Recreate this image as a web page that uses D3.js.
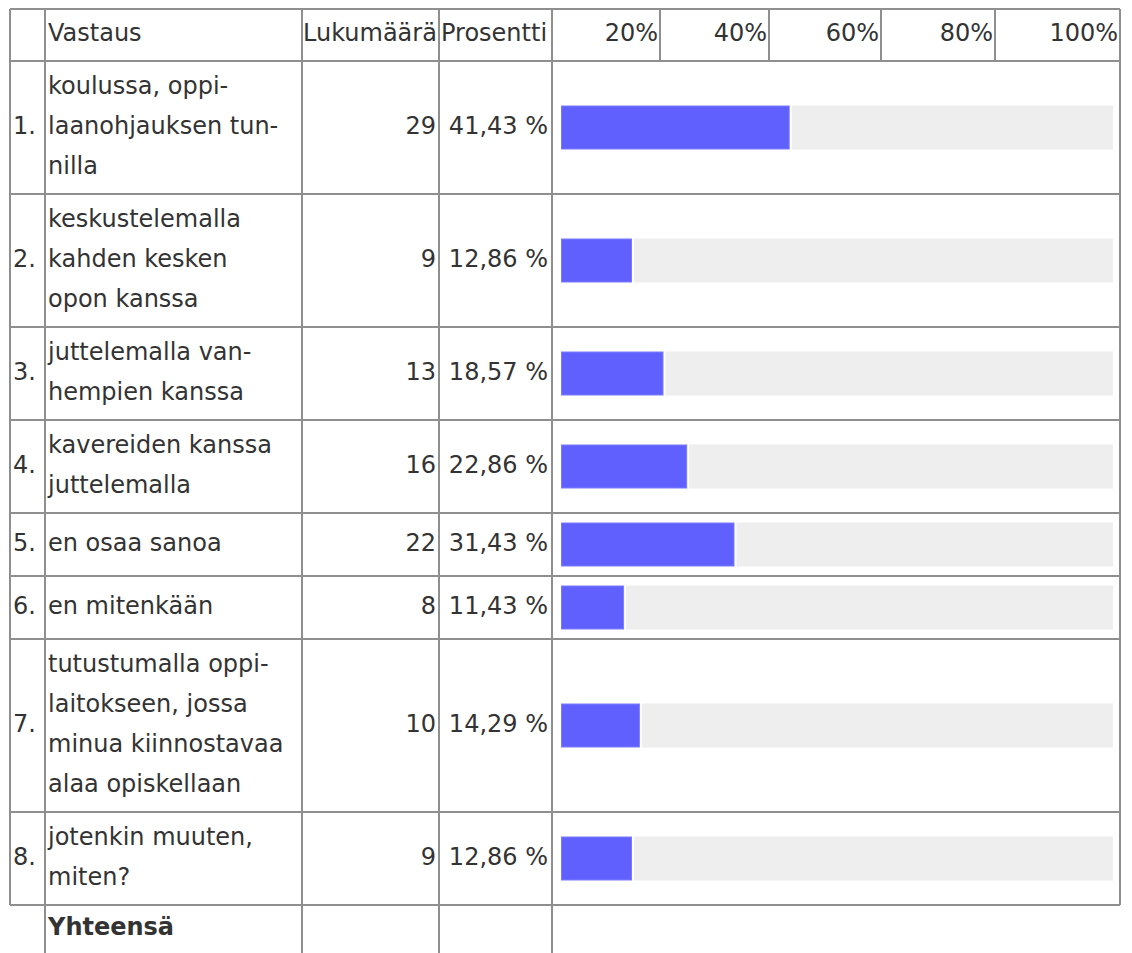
<!DOCTYPE html>
<html>
<head>
<meta charset="utf-8">
<script src="https://cdn.jsdelivr.net/npm/d3@7"></script>
<style>
  body { margin: 0; background: #fff; }
  svg text { font-family: "DejaVu Sans", Verdana, sans-serif; fill: #333; }
</style>
</head>
<body>
<div id="chart"></div>
<script>
const headers = ["Vastaus", "Lukumäärä", "Prosentti"];
const tickLabels = ["20%", "40%", "60%", "80%", "100%"];
const answers = [
    ["koulussa, oppi-", "laanohjauksen tun-", "nilla"],
    ["keskustelemalla", "kahden kesken", "opon kanssa"],
    ["juttelemalla van-", "hempien kanssa"],
    ["kavereiden kanssa", "juttelemalla"],
    ["en osaa sanoa"],
    ["en mitenkään"],
    ["tutustumalla oppi-", "laitokseen, jossa", "minua kiinnostavaa", "alaa opiskellaan"],
    ["jotenkin muuten,", "miten?"]
];
const counts = [29, 9, 13, 16, 22, 8, 10, 9];
const percents = [41.43, 12.86, 18.57, 22.86, 31.43, 11.43, 14.29, 12.86];
const totalLabel = "Yhteensä";

// table layout (px)
const W = 1132, H = 953;
const tableTop = 9, tableLeft = 10, tableRight = 1120;
const cols = [10, 45, 302, 439, 552];              // column borders
const tickCells = [552, 660, 769, 881, 995, 1120]; // header cells for ticks
const lineH = 40, padV = 13, minRowH = 63, headH = 52;
const barH = 44, fontSize = 24, dy = "0.27em";
const lineColor = "#8f8f8f";

const rowH = answers.map(function (a) { return Math.max(a.length * lineH + padV, minRowH); });
const rowTop = [tableTop + headH];
rowH.forEach(function (h, i) { rowTop.push(rowTop[i] + h); });
const tableBottom = rowTop[rowTop.length - 1];

const x = d3.scaleLinear().domain([0, 100]).range([561, 1113]);

const svg = d3.select("#chart").append("svg")
    .attr("width", W)
    .attr("height", H)
    .style("font-size", fontSize + "px");

// bars
const bars = svg.selectAll(".bar")
    .data(percents)
    .enter().append("g")
    .attr("class", "bar")
    .attr("transform", function (d, i) {
        return `translate(0, ${rowTop[i] + rowH[i] / 2 - barH / 2})`;
    });

bars.append("rect")
    .attr("x", function (d) { return x(d) + 2; })
    .attr("width", function (d) { return x(100) - x(d) - 2; })
    .attr("height", barH)
    .style("fill", "#eeeeee");

bars.append("rect")
    .attr("x", x(0) + 0.5)
    .attr("y", 0.5)
    .attr("width", function (d) { return x(d) - x(0) - 1; })
    .attr("height", barH - 1)
    .style("fill", "#6060ff")
    .style("stroke", "#7a7aff")
    .style("stroke-width", 1);

// grid lines
const g = svg.append("g")
    .style("stroke", lineColor)
    .style("stroke-width", 2);

g.append("line").attr("x1", tableLeft).attr("x2", tableRight).attr("y1", tableTop).attr("y2", tableTop);
rowTop.forEach(function (y) {
    g.append("line").attr("x1", tableLeft).attr("x2", tableRight).attr("y1", y).attr("y2", y);
});
g.append("line").attr("x1", tableLeft).attr("x2", tableLeft).attr("y1", tableTop).attr("y2", tableBottom);
g.append("line").attr("x1", tableRight).attr("x2", tableRight).attr("y1", tableTop).attr("y2", tableBottom);
cols.slice(1).forEach(function (c) {
    g.append("line").attr("x1", c).attr("x2", c).attr("y1", tableTop).attr("y2", H);
});
tickCells.slice(1, -1).forEach(function (c) {
    g.append("line").attr("x1", c).attr("x2", c).attr("y1", tableTop).attr("y2", tableTop + headH);
});

// header
const headY = tableTop + headH / 2;
svg.append("text").attr("x", cols[1] + 3).attr("y", headY).attr("dy", dy).text(headers[0]);
svg.append("text").attr("x", cols[2] + 1).attr("y", headY).attr("dy", dy).text(headers[1]);
svg.append("text").attr("x", cols[3] + 2).attr("y", headY).attr("dy", dy).text(headers[2]);

svg.selectAll(".tick")
    .data(tickLabels)
    .enter().append("text")
    .attr("class", "tick")
    .attr("x", function (d, i) { return tickCells[i + 1] - 2; })
    .attr("y", headY)
    .attr("dy", dy)
    .attr("text-anchor", "end")
    .text(function (d) { return d; });

// rows
const rows = svg.selectAll(".row")
    .data(answers)
    .enter().append("g")
    .attr("class", "row")
    .attr("transform", function (d, i) { return `translate(0, ${rowTop[i] + rowH[i] / 2})`; });

rows.append("text")
    .attr("x", tableLeft + 3)
    .attr("dy", dy)
    .text(function (d, i) { return (i + 1) + "."; });

rows.each(function (lines) {
    const n = lines.length;
    d3.select(this).selectAll(".ans")
        .data(lines)
        .enter().append("text")
        .attr("class", "ans")
        .attr("x", cols[1] + 3)
        .attr("y", function (d, j) { return (j - (n - 1) / 2) * lineH; })
        .attr("dy", dy)
        .text(function (d) { return d; });
});

rows.append("text")
    .attr("x", cols[3] - 3)
    .attr("dy", dy)
    .attr("text-anchor", "end")
    .text(function (d, i) { return counts[i]; });

rows.append("text")
    .attr("x", cols[4] - 4)
    .attr("dy", dy)
    .attr("text-anchor", "end")
    .text(function (d, i) { return percents[i].toFixed(2).replace(".", ",") + " %"; });

// footer
svg.append("text")
    .attr("x", cols[1] + 3)
    .attr("y", tableBottom + 24)
    .attr("dy", dy)
    .style("font-weight", "bold")
    .text(totalLabel);
</script>
</body>
</html>
